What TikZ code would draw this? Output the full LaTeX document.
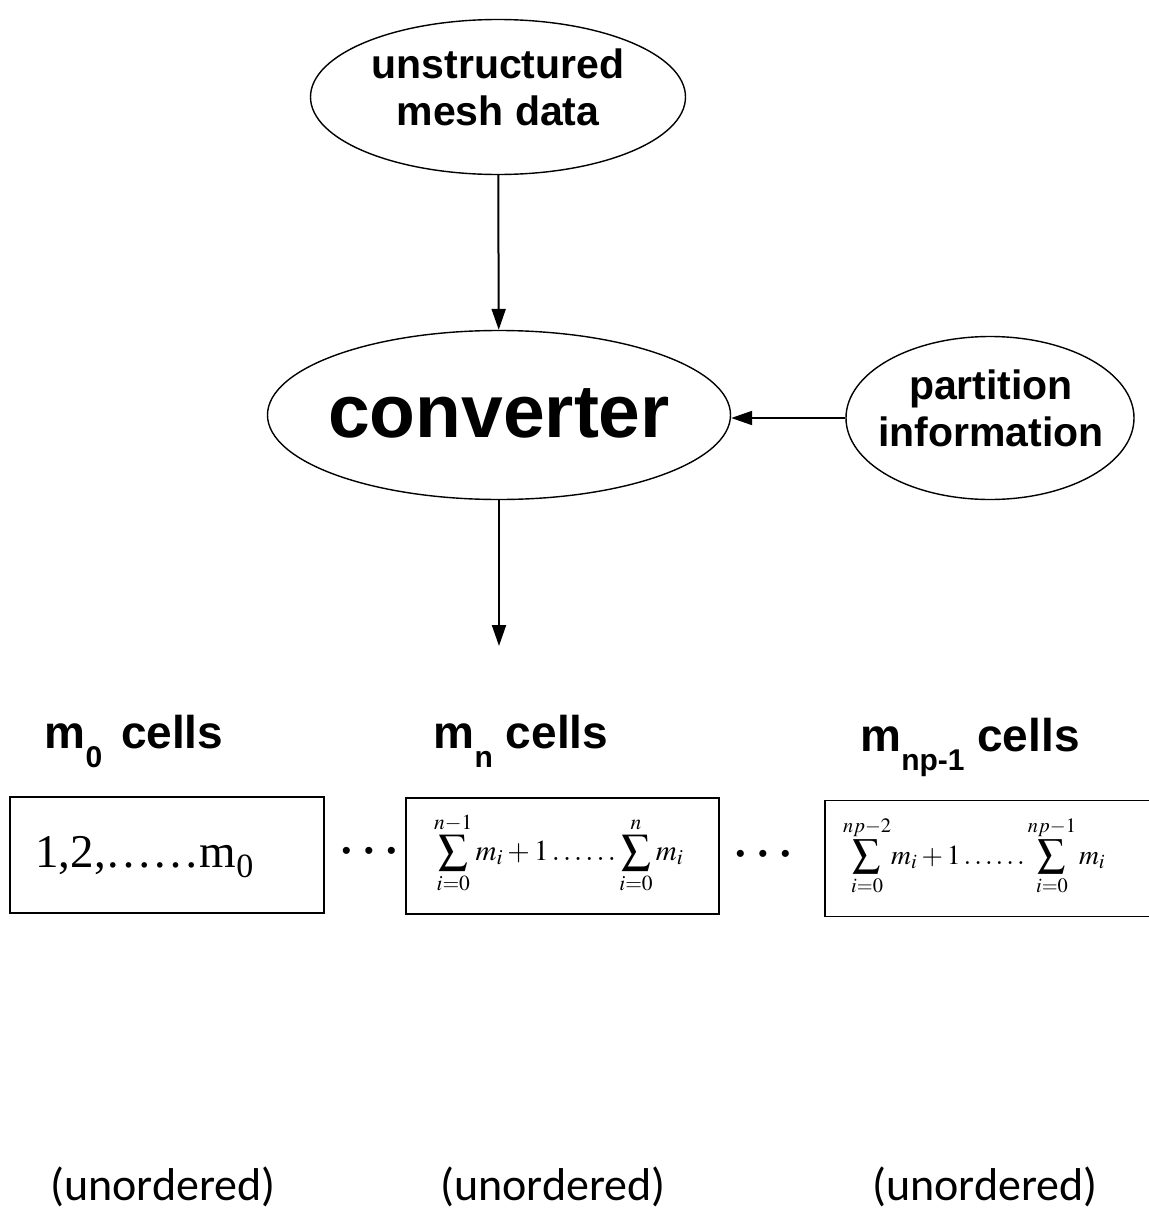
\documentclass[tikz,border=0pt]{standalone}
\usepackage{mathptmx}
\usepackage{fontspec}
\setmainfont{Liberation Sans}
\newfontfamily\timesfont{Liberation Serif}
\newfontfamily\plainsans{Carlito}
\usetikzlibrary{shapes.geometric,arrows.meta}
% lowered subscript for the bold sans labels
\newcommand{\lsub}[1]{\raisebox{-0.42em}{\fontsize{15}{15}\selectfont #1}}
% three spaced bullets between the cell boxes
\newcommand{\gapbullets}{\makebox[11.25pt]{•}\makebox[11.25pt]{•}\makebox[11.25pt]{•}}
\tikzset{
  blob/.style={draw, ellipse, line width=0.7pt, inner sep=0pt},
  blobtext/.style={align=center, inner sep=0pt},
  flow/.style={line width=1pt, -{Triangle[length=10.5pt,width=7pt]}},
  cellbox/.style={draw, line width=0.9pt, inner sep=0pt, minimum height=58pt},
  cellhead/.style={font=\bfseries\fontsize{23}{25}\selectfont, anchor=base},
  cellnote/.style={font=\plainsans\fontsize{23}{25}\selectfont},
  gapdots/.style={font=\fontsize{13}{13}\selectfont, inner sep=0pt},
  sumfont/.style={font=\fontsize{14.5}{17}\selectfont},
}
\begin{document}
\begin{tikzpicture}[x=0.5pt,y=-0.5pt]
\useasboundingbox (0,0) rectangle (1149,1210);

% sources and converter
\node[blob, minimum width=187.5pt, minimum height=77.5pt] (mesh) at (498,97) {};
\node[blobtext, font=\bfseries\fontsize{20.5}{23.5}\selectfont] (meshtext) at (498,87)
      {unstructured\\mesh data};
\node[blob, minimum width=231.5pt, minimum height=84.5pt] (conv) at (499,415) {};
\node[blobtext, font=\bfseries\fontsize{37.5}{40}\selectfont] (convtext) at (499,413)
      {converter};
\node[blob, minimum width=144pt, minimum height=81.5pt] (part) at (990,418) {};
\node[blobtext, font=\bfseries\fontsize{20.5}{23.5}\selectfont] (parttext) at (991,408)
      {partition\\information};

\coordinate (out) at (499,646);
\draw[flow] (mesh) -- (conv);
\draw[flow] (part.west) -- (conv.east |- part.west);
\draw[flow] (conv.south) -- (out);

% per-partition cell ranges
\node[cellhead] (h0) at (134,748) {m\lsub{0}\hspace{3pt} cells};
\node[cellhead] (h1) at (521,748) {m\lsub{n} cells};
\node[cellhead] (h2) at (970,751) {m\lsub{np-1} cells};

\node[cellbox, minimum width=157pt] (b0) at (167,855) {};
\node[anchor=west, inner sep=0pt, font=\timesfont\fontsize{23.5}{23.5}\selectfont] (r0)
  at (35,857) {1,2,……m\raisebox{-0.2em}{\fontsize{17}{17}\selectfont 0}};
\node[cellbox, minimum width=156.5pt] (b1) at (562.5,856) {};
\node[sumfont] (r1) at (559,853)
  {$\displaystyle\sum_{i=0}^{n-1} m_i +1\ldots\ldots \sum_{i=0}^{n} m_i$};
\node[cellbox, minimum width=170pt, anchor=west] (b2) at (824,858.5) {};
\node[sumfont, font=\fontsize{13.8}{16}\selectfont, anchor=west] (r2) at (836,856)
  {$\displaystyle\sum_{i=0}^{np-2}\! m_i +1\ldots\ldots \sum_{i=0}^{np-1} m_i$};

\node[gapdots] (d0) at (369,853) {\gapbullets};
\node[gapdots] (d1) at (763,856) {\gapbullets};

\node[cellnote] (u0) at (163,1187) {(unordered)};
\node[cellnote] (u1) at (553,1187) {(unordered)};
\node[cellnote] (u2) at (985,1187) {(unordered)};
\end{tikzpicture}
\end{document}
